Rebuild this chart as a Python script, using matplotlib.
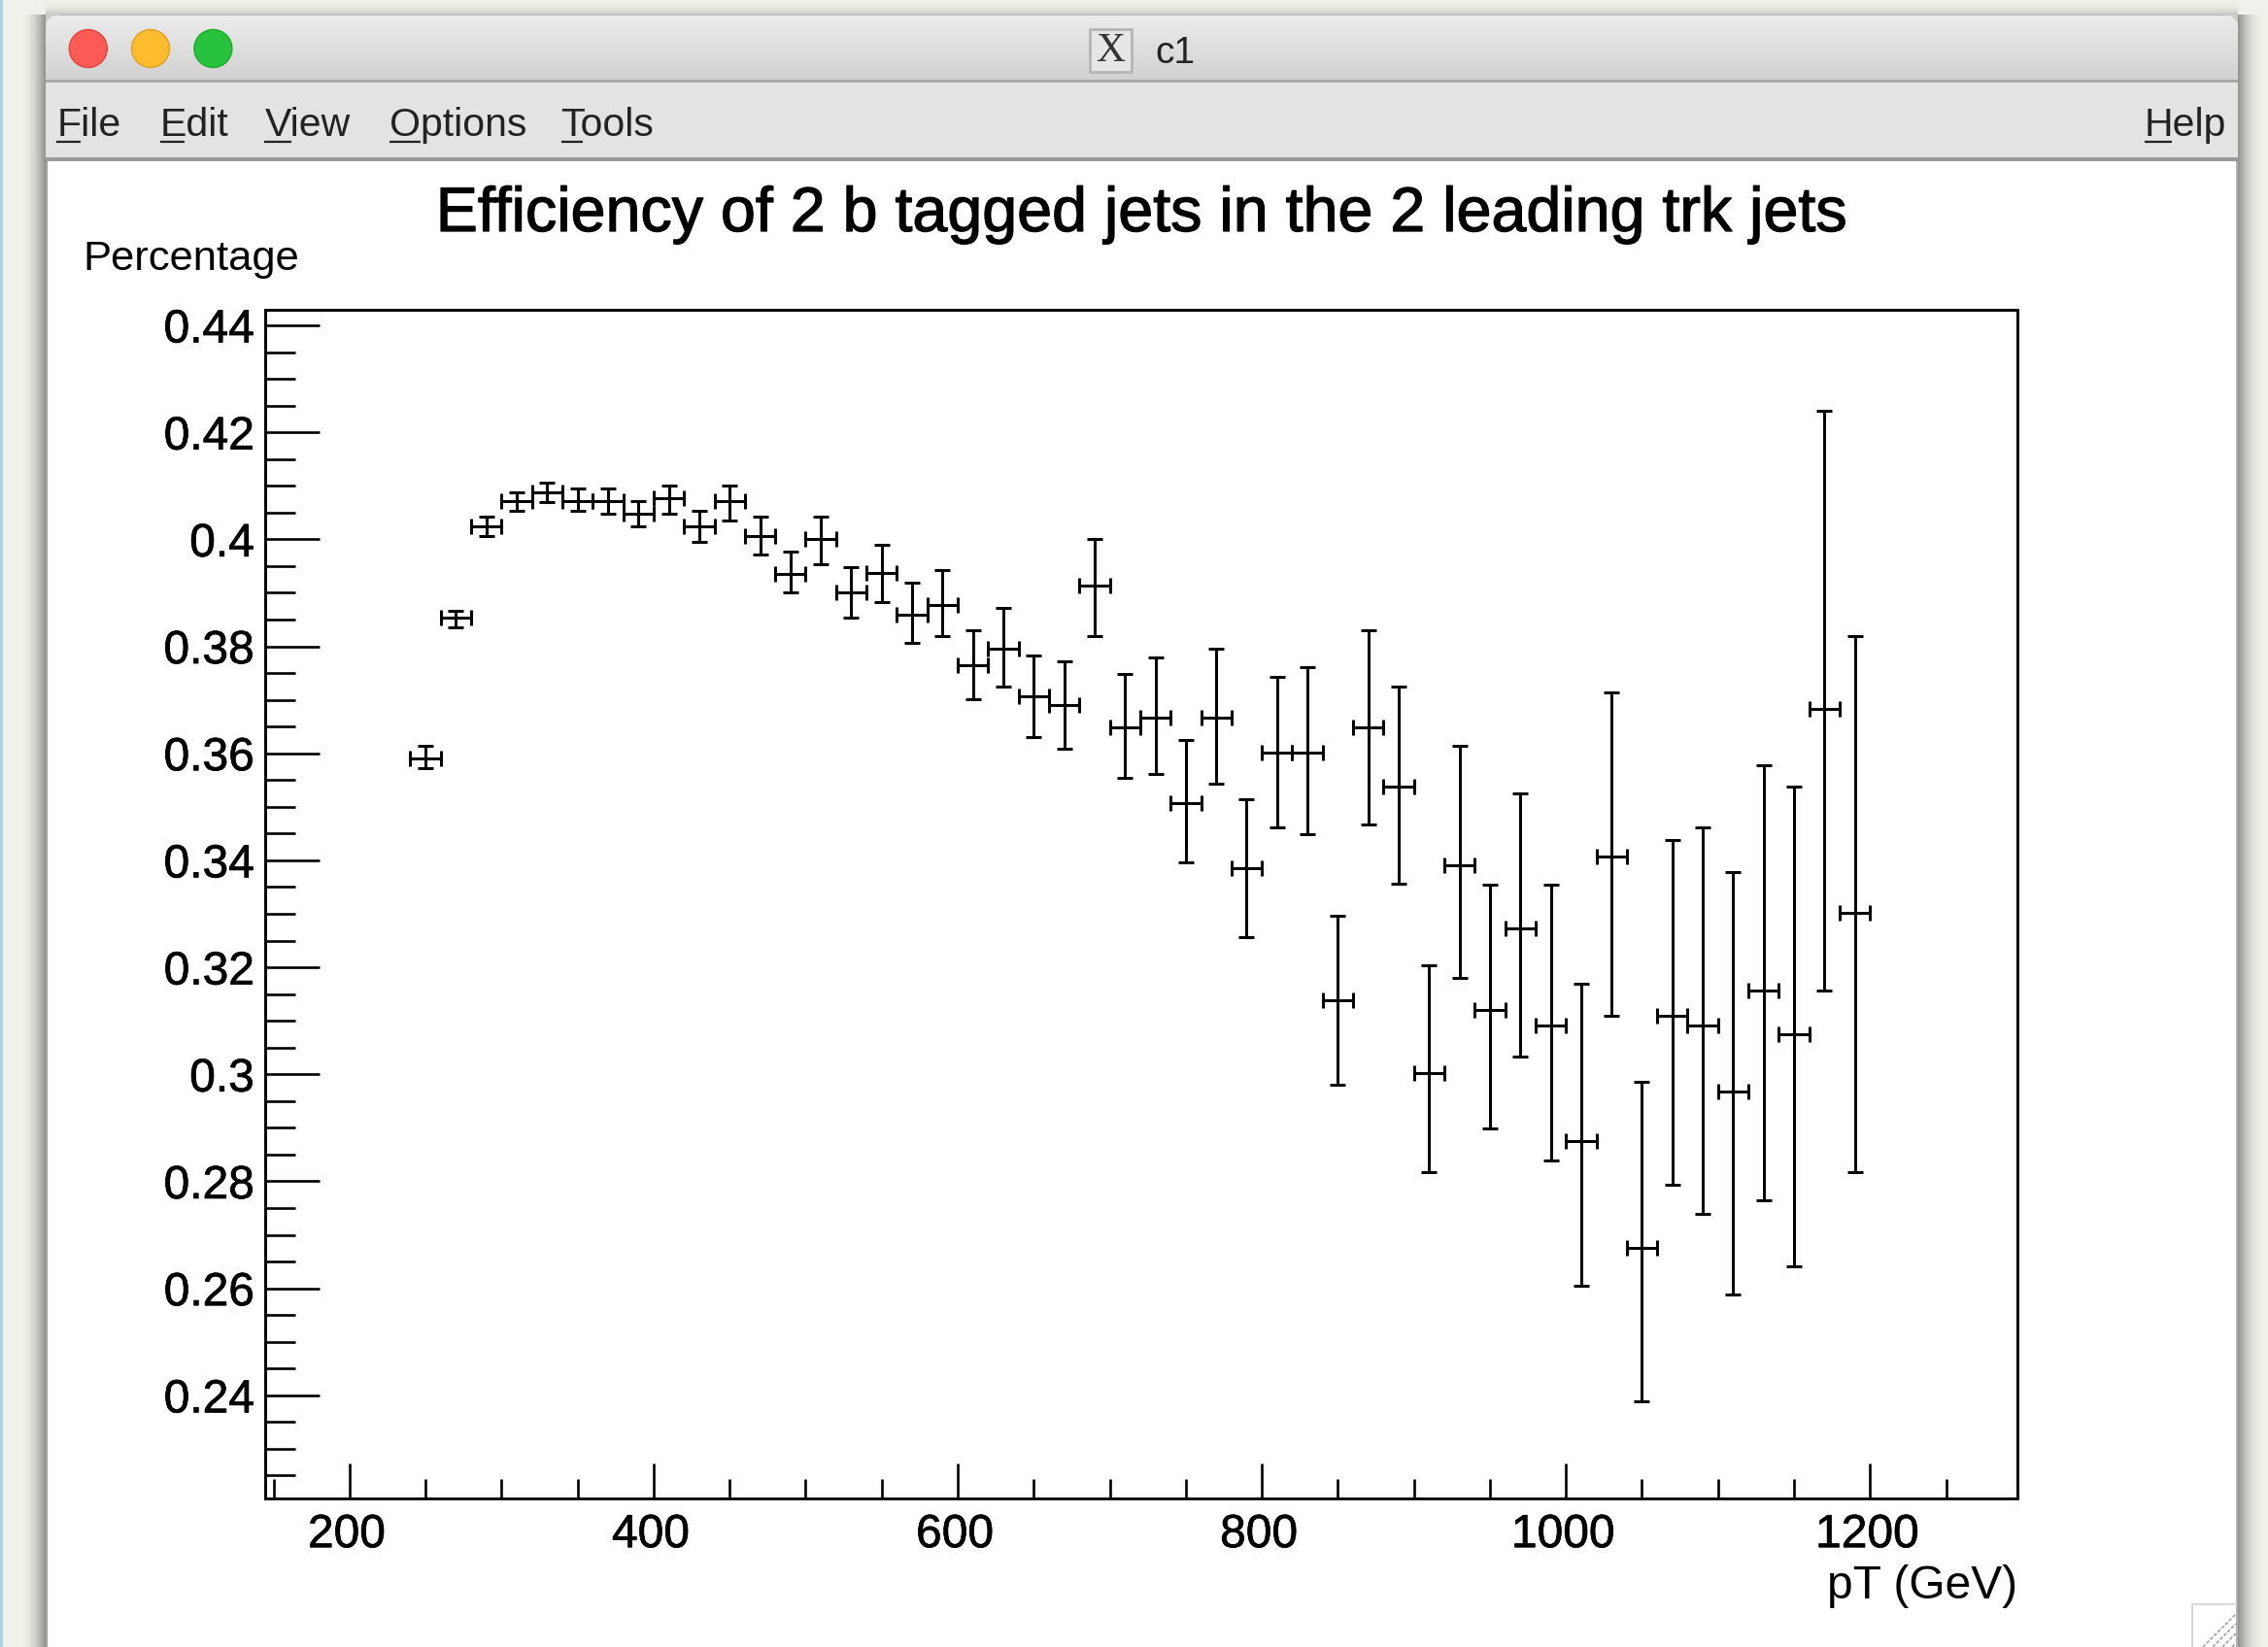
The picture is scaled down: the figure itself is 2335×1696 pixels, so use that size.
import numpy as np
import matplotlib
matplotlib.use("Agg")
import matplotlib.pyplot as plt
import matplotlib.patheffects as pe
from matplotlib.patches import Rectangle, Ellipse
from matplotlib.ticker import FixedLocator, FixedFormatter
from matplotlib.transforms import ScaledTranslation

# ---- data -------------------------------------------------------------
pt = [250, 270, 290, 310, 330, 350, 370, 390, 410, 430, 450, 470, 490, 510, 530, 550,
      570, 590, 610, 630, 650, 670, 690, 710, 730, 750, 770, 790, 810, 830, 850, 870,
      890, 910, 930, 950, 970, 990, 1010, 1030, 1050, 1070, 1090, 1110, 1130, 1150,
      1170, 1190]
eff = [.35903, .38529, .40236, .40714, .40877, .40714, .40714, .40478, .40762, .40242,
       .40714, .40066, .39358, .40006, .39007, .39370, .38590, .38771, .37652, .37954,
       .37071, .36901, .39128, .36478, .36659, .35074, .36659, .33851, .36006, .36006,
       .31384, .36477, .35373, .30030, .33907, .31197, .32732, .30912, .28746, .34079,
       .26757, .31086, .30910, .29687, .31562, .30743, .36838, .33023]
eff_high = [.36145, .38662, .40417, .40883, .41065, .40944, .40944, .40708, .41004, .40532,
            .41004, .40417, .39770, .40417, .39479, .39891, .39183, .39419, .38305, .38723,
            .37827, .37718, .40006, .37482, .37785, .36254, .37954, .35134, .37428, .37609,
            .32969, .38305, .37241, .32031, .36137, .33552, .35258, .33552, .31685, .37141,
            .29855, .34378, .34607, .33788, .35786, .35372, .42402, .38192]
eff_low = [.35721, .38360, .40054, .40526, .40702, .40526, .40472, .40236, .40472, .39945,
           .40351, .39709, .39007, .39534, .38541, .38832, .38069, .38190, .37016, .37252,
           .36308, .36078, .38184, .35546, .35606, .33966, .35431, .32556, .34608, .34487,
           .29800, .34671, .33559, .28168, .31795, .28981, .30330, .28397, .26053, .31095,
           .23888, .27927, .27399, .25877, .27637, .26405, .31563, .28168]
bin_half_width = 10

title = "Efficiency of 2 b tagged jets in the 2 leading trk jets"
y_title = "Percentage"
x_title = "pT (GeV)"
x_major = [200, 400, 600, 800, 1000, 1200]
x_major_labels = ["200", "400", "600", "800", "1000", "1200"]
x_minor = [150, 250, 300, 350, 450, 500, 550, 650, 700, 750, 850, 900, 950, 1050, 1100, 1150, 1250]
y_major = [0.24, 0.26, 0.28, 0.30, 0.32, 0.34, 0.36, 0.38, 0.40, 0.42, 0.44]
y_major_labels = ["0.24", "0.26", "0.28", "0.3", "0.32", "0.34", "0.36", "0.38", "0.4", "0.42", "0.44"]
y_minor = [0.225, 0.23, 0.235, 0.245, 0.25, 0.255, 0.265, 0.27, 0.275, 0.285, 0.29, 0.295,
           0.305, 0.31, 0.315, 0.325, 0.33, 0.335, 0.345, 0.35, 0.355, 0.365, 0.37, 0.375,
           0.385, 0.39, 0.395, 0.405, 0.41, 0.415, 0.425, 0.43, 0.435]
menus_left = ["File", "Edit", "View", "Options", "Tools"]
menu_help = "Help"
window_name = "c1"

# ---- figure -----------------------------------------------------------
W, H = 2335, 1696
plt.rcParams["font.family"] = ["Liberation Sans", "DejaVu Sans"]
fig = plt.figure(figsize=(W / 100, H / 100), dpi=100)

# window chrome drawn in pixel space
bg = fig.add_axes([0, 0, 1, 1], zorder=0)
bg.set_xlim(0, W)
bg.set_ylim(H, 0)
bg.axis("off")

img = np.ones((H, W, 3)) * np.array([0.945, 0.949, 0.918])
img[:, :3] = np.array([0.70, 0.82, 0.89])
# side shadows
wl, wr, wt = 47, 2304, 15
for i in range(28):
    f = (1 - i / 28) ** 2.2
    img[wt:, wl - i - 1] = img[wt:, wl - i - 1] * (1 - f) + np.array([0.58, 0.58, 0.56]) * f
    img[wt:, wr + i] = img[wt:, wr + i] * (1 - f) + np.array([0.58, 0.58, 0.56]) * f
for i in range(14):
    f = 0.45 * (1 - i / 14) ** 2
    img[wt - i - 1, wl:wr] = img[wt - i - 1, wl:wr] * (1 - f) + np.array([0.6, 0.6, 0.6]) * f
# title bar gradient
tb = np.linspace(0.925, 0.82, 84 - wt)
img[wt:84, wl:wr] = tb[:, None, None] * np.ones(3)
img[wt:wt + 1, wl:wr] = 0.72
img[82:85, wl:wr] = np.array([0.66, 0.66, 0.66])
# menu bar
img[85:162, wl:wr] = 0.894
img[162:166, wl:wr] = 0.60
# canvas
img[166:, wl + 2:wr - 2] = 1.0
img[166:, wl:wl + 2] = 0.62
img[166:, wr - 2:wr] = 0.70
# rounded top corners
r = 14
for dy in range(r):
    dx = int(r - np.sqrt(max(r ** 2 - (r - dy) ** 2, 0)))
    img[wt + dy, wl:wl + dx] = np.array([0.80, 0.80, 0.79])
    img[wt + dy, wr - dx:wr] = np.array([0.80, 0.80, 0.79])
bg.imshow(img, extent=(0, W, H, 0), aspect="auto", interpolation="nearest", zorder=0)

for cx, col, edge in [(90.8, "#fb5a55", "#e0443e"), (155, "#fdbb2e", "#dfa023"), (219.4, "#27c33f", "#1aab29")]:
    bg.add_patch(Ellipse((cx, 50), 39, 39, fc=col, ec=edge, lw=1, zorder=2))

# X icon and window name
bg.add_patch(Rectangle((1122, 30), 43, 44, fc="#e6e6e6", ec="#b5b5b5", lw=2, zorder=2))
bg.text(1143.5, 53, "X", ha="center", va="center", fontsize=30, family="Liberation Serif", color="#333333", zorder=3)
bg.text(1189, 55, window_name, ha="left", va="center", fontsize=28, color="#222222", zorder=3)

# menus
menu_x = [59, 165, 273, 401, 577]
menu_ul = [(58, 83), (165, 190), (272, 300), (401, 433), (578, 600)]
for name, mx, (u0, u1) in zip(menus_left, menu_x, menu_ul):
    bg.text(mx, 140.5, name, ha="left", va="baseline", fontsize=29.5, color="#222222", zorder=3)
    bg.plot([u0, u1], [146, 146], color="#222222", lw=1.6, zorder=3, solid_capstyle="butt")
bg.text(2208, 140.5, menu_help, ha="left", va="baseline", fontsize=29.5, color="#222222", zorder=3)
bg.plot([2208, 2236], [146, 146], color="#222222", lw=1.6, zorder=3, solid_capstyle="butt")

# resize grip
bg.plot([2257, 2257, 2302], [H, 1652, 1652], color="#d8d8d8", lw=1.5, zorder=2)
for k in range(4):
    bg.plot([2268 + 10 * k, 2302], [H, H - 34 + 10 * k], color="#a8a8a8", lw=1.3, ls=(0, (2, 1)), zorder=2)

# plot area
L, R, T, B = 272.8, 2077.0, 319.3, 1542.9
ax = fig.add_axes([L / W, 1 - B / H, (R - L) / W, (B - T) / H], zorder=1)
ax.patch.set_alpha(0)
ax.set_xlim(144.4, 1296.9)
ax.set_ylim(0.22075, 0.44285)

pt_arr = np.array(pt, float)
e = np.array(eff)
yerr = [e - np.array(eff_low), np.array(eff_high) - e]
ax.errorbar(pt_arr, e, yerr=yerr, xerr=bin_half_width, fmt="none", ecolor="black",
            elinewidth=2.15, capsize=5.8, capthick=2.15)

for s in ax.spines.values():
    s.set_linewidth(2.1)
ax.xaxis.set_major_locator(FixedLocator(x_major))
ax.xaxis.set_major_formatter(FixedFormatter(x_major_labels))
ax.xaxis.set_minor_locator(FixedLocator(x_minor))
ax.yaxis.set_major_locator(FixedLocator(y_major))
ax.yaxis.set_major_formatter(FixedFormatter(y_major_labels))
ax.yaxis.set_minor_locator(FixedLocator(y_minor))
ax.tick_params(axis="x", which="major", direction="in", length=26, width=1.9, labelsize=34.5, pad=11)
ax.tick_params(axis="x", which="minor", direction="in", length=14.6, width=1.9)
ax.tick_params(axis="y", which="major", direction="in", length=40, width=1.9, labelsize=34.5, pad=8)
ax.tick_params(axis="y", which="minor", direction="in", length=22, width=1.9)
shift = ScaledTranslation(-3 / 100, 0, fig.dpi_scale_trans)
for lab in ax.get_xticklabels():
    lab.set_transform(lab.get_transform() + shift)
    lab.set_path_effects([pe.withStroke(linewidth=0.5, foreground="black")])
for lab in ax.get_yticklabels():
    lab.set_path_effects([pe.withStroke(linewidth=0.5, foreground="black")])

t = fig.text(1176 / W, 1 - 238 / H, title, ha="center", va="baseline", fontsize=46.5, color="black", zorder=5)
t.set_path_effects([pe.withStroke(linewidth=0.9, foreground="black")])
fig.text(85 / W, 1 - 278 / H, y_title, ha="left", va="baseline", fontsize=31.3, color="black", zorder=5)
fig.text(2077 / W, 1 - 1645.5 / H, x_title, ha="right", va="baseline", fontsize=34.5, color="black", zorder=5)

fig.savefig("out.png", dpi=100)
